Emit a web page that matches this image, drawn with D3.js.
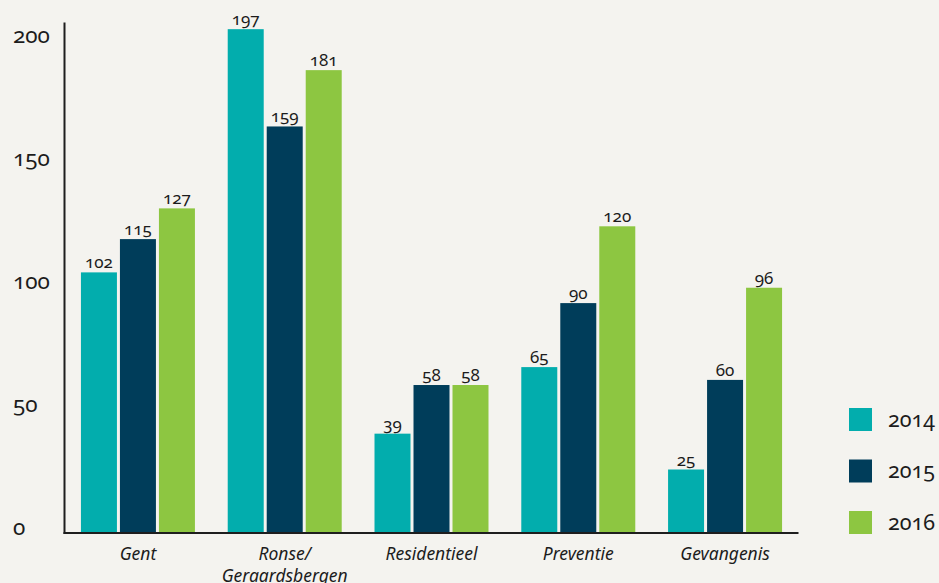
<!DOCTYPE html>
<html>
<head>
<meta charset="utf-8">
<script src="https://cdn.jsdelivr.net/npm/d3@7/dist/d3.min.js"></script>
<style>
  html, body { margin: 0; padding: 0; background: #f4f3ef; }
  svg { display: block; font-family: "Noto Sans", "Open Sans", sans-serif; font-feature-settings: "onum" 1; font-variant-numeric: oldstyle-nums; }
</style>
</head>
<body>
<svg id="chart" width="939" height="583"></svg>
<script>
// Regions and yearly counts
const categories = ["Gent", "Ronse/\nGeraardsbergen", "Residentieel", "Preventie", "Gevangenis"];
const years = ["2014", "2015", "2016"];
const values2014 = [102, 197, 39, 65, 25];
const values2015 = [115, 159, 58, 90, 60];
const values2016 = [127, 181, 58, 120, 96];
const yTicks = [0, 50, 100, 150, 200];
const colors = ["#02adad", "#003d5a", "#8dc641"];

const seriesByYear = [values2014, values2015, values2016];
const rows = categories.map((c, i) => ({
  category: c,
  values: years.map((y, j) => ({ year: y, value: seriesByYear[j][i], color: colors[j] }))
}));

const svg = d3.select("#chart");

const axisX = 64.5, baseY = 533.5;

const x0 = d3.scaleBand().domain(categories).range([axisX, 798.5]).paddingInner(0.2234).paddingOuter(0.112);
const x1 = d3.scaleBand().domain(years).range([0, x0.bandwidth()]).paddingInner(0.077).paddingOuter(0);
const y = d3.scaleLinear().domain([0, 200]).range([baseY, 21.5]);
// baseline positions for the value-axis labels
const yLabel = d3.scaleLinear().domain([0, 200]).range([534, 42]);

// bars
const groups = svg.append("g").selectAll("g").data(rows).join("g")
  .attr("transform", d => `translate(${x0(d.category)},0)`);

groups.selectAll("rect").data(d => d.values).join("rect")
  .attr("x", d => x1(d.year))
  .attr("width", x1.bandwidth())
  .attr("y", d => y(d.value))
  .attr("height", d => y(0) - y(d.value))
  .attr("fill", d => d.color);

groups.selectAll("text").data(d => d.values).join("text")
  .attr("x", d => x1(d.year) + x1.bandwidth() / 2)
  .attr("y", d => y(d.value) - 4)
  .attr("text-anchor", "middle")
  .attr("font-size", 17)
  .attr("fill", "#1c1c1c")
  .text(d => d.value);

// value axis labels
const yAxis = d3.axisLeft(yLabel).tickValues(yTicks).tickSize(0).tickFormat(d3.format("d"));
const yg = svg.append("g").call(yAxis);
yg.select(".domain").remove();
yg.selectAll("text")
  .attr("x", 13).attr("dy", null).attr("y", 0)
  .attr("text-anchor", "start")
  .attr("font-size", 22.5)
  .attr("font-family", "\"Noto Sans\", sans-serif")
  .attr("fill", "#1c1c1c");

// axis lines
svg.append("line").attr("x1", axisX).attr("x2", axisX).attr("y1", 22.5).attr("y2", 534)
  .attr("stroke", "#1e1e1e").attr("stroke-width", 2);
svg.append("line").attr("x1", 63.5).attr("x2", 798.5).attr("y1", baseY - 0.5).attr("y2", baseY - 0.5)
  .attr("stroke", "#1e1e1e").attr("stroke-width", 2);

// category labels
const xg = svg.append("g");
categories.forEach(c => {
  const cx = x0(c) + x0.bandwidth() / 2;
  const t = xg.append("text")
    .attr("x", cx)
    .attr("y", 560)
    .attr("text-anchor", "middle")
    .attr("font-size", 17.5)
    .attr("font-style", "italic")
    .attr("fill", "#1c1c1c");
  c.split("\n").forEach((line, i) => {
    t.append("tspan").attr("x", cx).attr("dy", i === 0 ? 0 : 22).text(line);
  });
});

// legend
const legend = svg.append("g").selectAll("g").data(years).join("g")
  .attr("transform", (d, i) => `translate(849,${408 + i * 51.5})`);
legend.append("rect").attr("width", 23).attr("height", 23).attr("fill", (d, i) => colors[i]);
legend.append("text").attr("x", 39).attr("y", 18.5)
  .attr("font-size", 21.5).attr("fill", "#1c1c1c").text(d => d);
</script>
</body>
</html>
